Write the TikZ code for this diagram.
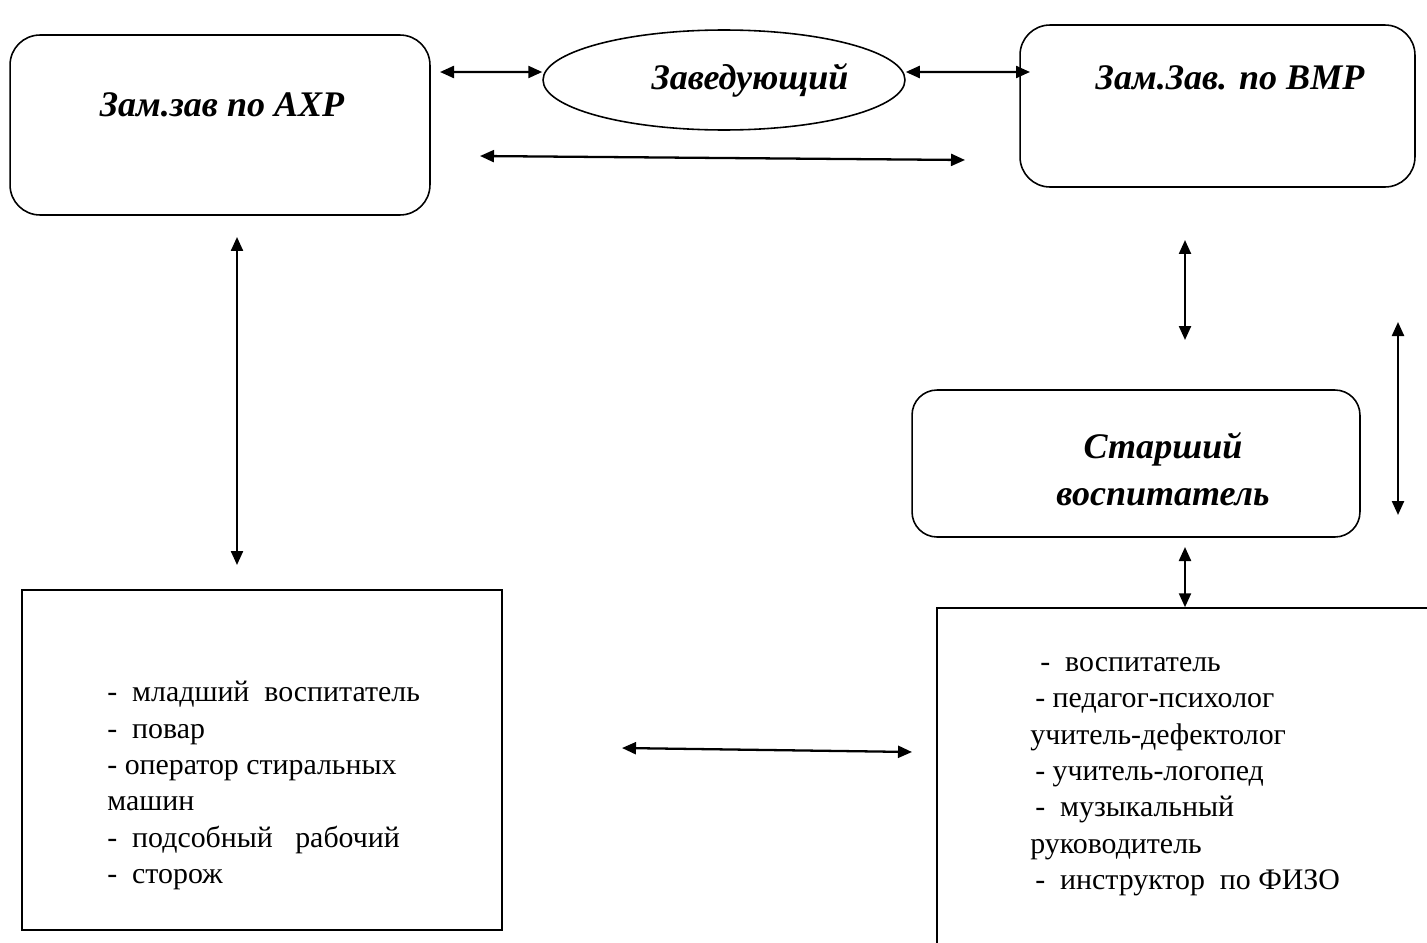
\documentclass[tikz,border=0pt]{standalone}
\usepackage{fontspec}
\setmainfont{Liberation Serif}
\usetikzlibrary{shapes.geometric, arrows.meta, positioning}

\tikzset{
  roundbox/.style={draw, rounded corners=0.6cm, line width=0.9pt, inner sep=0pt},
  listbox/.style={draw, line width=0.9pt, inner sep=0pt},
  heading/.style={font=\fontsize{20.5}{27}\selectfont\bfseries\itshape, align=center},
  listtext/.style={font=\fontsize{17}{20.7}\selectfont, align=left, anchor=north west, inner sep=0pt},
  link/.style={{Triangle[length=0.28cm,width=0.24cm]}-{Triangle[length=0.28cm,width=0.24cm]}, line width=1.3pt},
}

\begin{document}
\begin{tikzpicture}[x=0.02cm, y=-0.02cm]
    \useasboundingbox (0,0) rectangle (1427,943);
    \clip (0,0) rectangle (1427,943);

    % Top row
    \node[roundbox, minimum width=8.4cm, minimum height=3.6cm] (ahx) at (220,125) {};
    \node[heading] (ahxText) at (222,105) {Зам.зав по АХР};

    \node[ellipse, draw, line width=0.9pt, minimum width=7.24cm, minimum height=2cm, inner sep=0pt] (zav) at (724,80) {};
    \node[heading] (zavText) at (750,80) {Заведующий};

    \node[roundbox, minimum width=7.9cm, minimum height=3.24cm] (vmr) at (1217.5,106) {};
    \node[heading] (vmrText) at (1230,78) {Зам.Зав. по ВМР};

    % Senior teacher
    \node[roundbox, rounded corners=0.5cm, minimum width=8.96cm, minimum height=2.94cm] (vos) at (1136,463.5) {};
    \node[heading] (vosText) at (1163,469) {Старший\\воспитатель};

    % Staff lists
    \node[listbox, minimum width=9.6cm, minimum height=6.8cm] (spisL) at (262,760) {};
    \node[listtext] (spisLText) at (107,681) {-\ \ младший\ \ воспитатель\\-\ \ повар\\- оператор стиральных\\машин\\-\ \ подсобный\ \ \ рабочий\\-\ \ сторож};

    \node[listbox, minimum width=10.26cm, minimum height=7.24cm] (spisR) at (1193.5,789) {};
    \node[listtext] (spisRText) at (1030,657) {\hspace{0.2cm}-\ \ воспитатель\\\hspace{0.1cm}- педагог-психолог\\учитель-дефектолог\\\hspace{0.1cm}- учитель-логопед\\\hspace{0.1cm}-\ \ музыкальный\\руководитель\\\hspace{0.1cm}-\ \ инструктор\ \ по ФИЗО};

    % Arrow ends
    \coordinate (ahxR) at (440,72);
    \coordinate (vmrL) at (1030,72);
    \coordinate (midL) at (480,156);
    \coordinate (midR) at (965,160);
    \coordinate (ahxB) at (237,237);
    \coordinate (spisLT) at (237,565);
    \coordinate (vmrB) at (1185,240);
    \coordinate (vosT) at (1185,340);
    \coordinate (sideT) at (1398,322);
    \coordinate (sideB) at (1398,515);
    \coordinate (vosB) at (1185,547);
    \coordinate (spisLR) at (622,748);
    \coordinate (spisRL) at (912,752);

    \draw[link] (ahxR) -- ([yshift=0.16cm]zav.west);
    \draw[link] ([yshift=0.16cm]zav.east) -- (vmrL);
    \draw[link] (midL) -- (midR);
    \draw[link] (ahxB) -- (spisLT);
    \draw[link] (vmrB) -- (vosT);
    \draw[link] (sideT) -- (sideB);
    \draw[link] (vosB) -- (vosB |- spisR.north);
    \draw[link] (spisLR) -- (spisRL);
\end{tikzpicture}
\end{document}
